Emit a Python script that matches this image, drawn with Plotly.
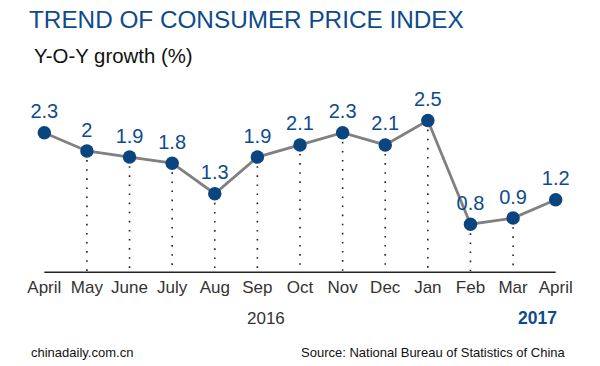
import plotly.graph_objects as go

months = ["April", "May", "June", "July", "Aug", "Sep", "Oct", "Nov", "Dec", "Jan", "Feb", "Mar", "April"]
cpi = [2.3, 2.0, 1.9, 1.8, 1.3, 1.9, 2.1, 2.3, 2.1, 2.5, 0.8, 0.9, 1.2]
value_labels = ["2.3", "2", "1.9", "1.8", "1.3", "1.9", "2.1", "2.3", "2.1", "2.5", "0.8", "0.9", "1.2"]

idx = list(range(len(months)))
FONT = "Liberation Sans, Arial, sans-serif"
BLUE = "#0e4b8c"
MARKER = "#0b4580"

# dotted drop lines (all points except first and last)
dx, dy = [], []
for i in idx[1:-1]:
    dx += [i, i, None]
    dy += [cpi[i], 0, None]

fig = go.Figure()
fig.add_trace(go.Scatter(x=dx, y=dy, mode="lines",
                         line=dict(color="#222222", width=1.6, dash="1.6px,7.5px"),
                         hoverinfo="skip", showlegend=False, cliponaxis=False))
fig.add_trace(go.Scatter(x=[idx[0], idx[-1]], y=[0, 0], mode="lines",
                         line=dict(color="#222222", width=3),
                         hoverinfo="skip", showlegend=False, cliponaxis=False))
fig.add_trace(go.Scatter(x=idx, y=cpi, mode="lines+markers+text",
                         line=dict(color="#808080", width=2.8),
                         marker=dict(color=MARKER, size=13.5),
                         text=value_labels, textposition="top center",
                         textfont=dict(family=FONT, size=20, color=BLUE),
                         showlegend=False, cliponaxis=False))

fig.update_layout(
    width=600, height=366,
    margin=dict(l=23, r=23, t=90, b=93),
    paper_bgcolor="white", plot_bgcolor="white",
    font=dict(family=FONT),
    title=dict(text="TREND OF CONSUMER PRICE INDEX", x=29/600, xanchor="left",
               xref="container", y=1 - 19/366, yanchor="middle", yref="container",
               font=dict(family=FONT, size=24.3, color=BLUE)),
    xaxis=dict(range=[-0.5, len(months) - 0.5], tickvals=idx, ticktext=months,
               showgrid=False, zeroline=False, showline=False, ticks="",
               ticklabelstandoff=2,
               tickfont=dict(family=FONT, size=17, color="#333333")),
    yaxis=dict(range=[0, 3.0], visible=False, showgrid=False, zeroline=False),
    annotations=[
        dict(text="Y-O-Y growth (%)", xref="paper", yref="paper", x=(32 - 23) / 553.6,
             y=(273 - 56) / 183, xanchor="left", yanchor="middle", showarrow=False,
             font=dict(family=FONT, size=20.4, color="#111111")),
        dict(text="2016", xref="x", yref="paper", x=5.21, y=(273 - 318) / 183,
             xanchor="center", yanchor="middle", showarrow=False,
             font=dict(family=FONT, size=17, color="#333333")),
        dict(text="<b>2017</b>", xref="x", yref="paper", x=idx[-1] + 0.07, y=(273 - 318) / 183,
             xanchor="right", yanchor="middle", showarrow=False,
             font=dict(family=FONT, size=17.5, color=BLUE)),
        dict(text="chinadaily.com.cn", xref="paper", yref="paper", x=(29 - 23) / 553.6,
             y=(273 - 352) / 183, xanchor="left", yanchor="middle", showarrow=False,
             font=dict(family=FONT, size=13, color="#111111")),
        dict(text="Source: National Bureau of Statistics of China", xref="paper", yref="paper",
             x=(568 - 23) / 553.6, y=(273 - 352) / 183, xanchor="right", yanchor="middle",
             showarrow=False, font=dict(family=FONT, size=13, color="#111111")),
    ],
)

fig.write_html("out.html", config={"displayModeBar": False})
with open("out.html", encoding="utf-8") as f:
    html = f.read()
html = html.replace("<head>", "<head><style>html,body{margin:0;padding:0;overflow:hidden}</style>", 1)
with open("out.html", "w", encoding="utf-8") as f:
    f.write(html)
